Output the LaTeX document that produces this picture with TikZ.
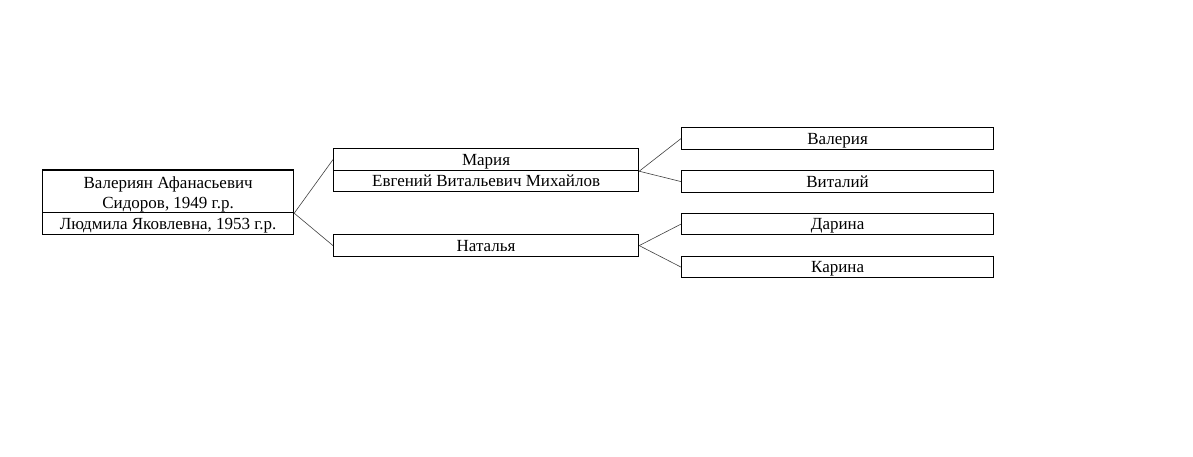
\documentclass[tikz,border=0pt]{standalone}
\usepackage{fontspec}
\setmainfont{Liberation Serif}
\begin{document}
\begin{tikzpicture}[x=1pt,y=-1pt,
  frame/.style={draw=black,line width=1.2pt,inner sep=0pt,anchor=north west},
  txt/.style={font=\fontsize{17}{20}\selectfont},
  box/.style={frame,txt,minimum height=#1,text height=13pt,text depth=2pt},
  box/.default=22pt,
  link/.style={draw=black!75,line width=0.6pt}]
\useasboundingbox (0,0) rectangle (1193,457);
\node[frame,minimum height=42.5pt,minimum width=251pt,
  label={[name=roottoptext,txt,align=center,yshift=-3pt]center:Валериян Афанасьевич\\Сидоров, 1949 г.р.}] (roottop) at (42,169.5) {};
\node[box=22pt,minimum width=251pt] (rootbot) at (42,212) {Людмила Яковлевна, 1953 г.р.};
\node[box=22pt,minimum width=305pt] (maria) at (333,148) {Мария};
\node[box=21pt,minimum width=305pt] (evg) at (333,170) {Евгений Витальевич Михайлов};
\node[box=22pt,minimum width=305pt] (nat) at (333,234) {Наталья};
\node[box=22pt,minimum width=312pt] (val) at (681,127) {Валерия};
\node[box=22pt,minimum width=312pt] (vit) at (681,170) {Виталий};
\node[box=21pt,minimum width=312pt] (dar) at (681,213) {Дарина};
\node[box=21pt,minimum width=312pt] (kar) at (681,256) {Карина};
\coordinate (rootj) at (roottop.south east);
\coordinate (mariaj) at (maria.south east);
\draw[link] (rootj) -- (maria.west);
\draw[link] (rootj) -- (nat.west);
\draw[link] (mariaj) -- (val.west);
\draw[link] (mariaj) -- (vit.west);
\draw[link] (nat.east) -- (dar.west);
\draw[link] (nat.east) -- (kar.west);
\end{tikzpicture}
\end{document}
